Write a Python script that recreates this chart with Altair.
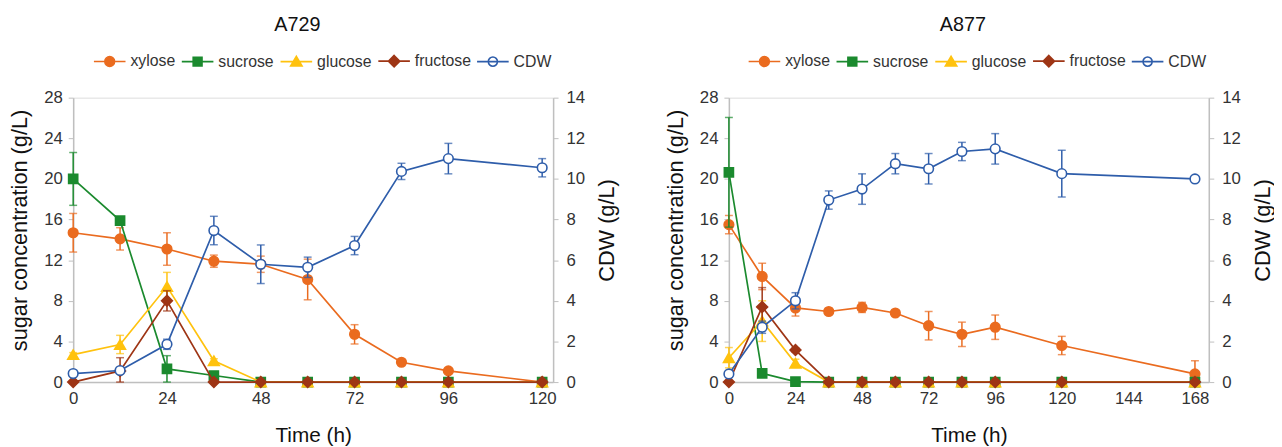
import altair as alt
import pandas as pd

SERIES = ["xylose", "sucrose", "glucose", "fructose", "CDW"]
COLORS = ["#EA6B1F", "#1B8A2E", "#FFC20E", "#9E3515", "#2E5DAA"]
FILLS = ["#EA6B1F", "#1B8A2E", "#FFC20E", "#9E3515", "#FFFFFF"]
MARKERS = ["circle", "square", "triangle-up", "diamond", "circle"]
MARKER_SIZES = [95, 85, 120, 120, 95]
LEGEND_PATHS = [
    "M-1,0H1M-0.31,0A0.31,0.31 0 1,0 0.31,0A0.31,0.31 0 1,0 -0.31,0Z",
    "M-1,0H1M-0.28,-0.28H0.28V0.28H-0.28Z",
    "M-1,0H1M0,-0.33L0.36,0.27H-0.36Z",
    "M-1,0H1M0,-0.36L0.36,0L0,0.36L-0.36,0Z",
    "M-1,0H1M-0.29,0A0.29,0.29 0 1,0 0.29,0A0.29,0.29 0 1,0 -0.29,0Z",
]

# ---------------- A729 ----------------
time_a = [0, 12, 24, 36, 48, 60, 72, 84, 96, 120]
xylose_a = [14.7, 14.1, 13.1, 11.9, 11.6, 10.1, 4.7, 1.95, 1.1, 0.0]
xylose_a_err = [1.9, 1.1, 1.6, 0.6, 0.8, 2.0, 0.95, 0.2, 0.1, 0.0]
sucrose_a = [20.0, 15.9, 1.3, 0.65, 0, 0, 0, 0, 0, 0]
sucrose_a_err = [2.6, 0.3, 1.3, 0.1, 0, 0, 0, 0, 0, 0]
glucose_a = [2.7, 3.7, 9.4, 2.1, 0, 0, 0, 0, 0, 0]
glucose_a_err = [0.2, 0.9, 1.4, 0.2, 0, 0, 0, 0, 0, 0]
fructose_a = [0, 1.1, 8.0, 0, 0, 0, 0, 0, 0, 0]
fructose_a_err = [0, 1.3, 1.0, 0, 0, 0, 0, 0, 0, 0]
cdw_a = [0.42, 0.57, 1.86, 7.46, 5.8, 5.65, 6.72, 10.37, 11.0, 10.55]
cdw_a_err = [0.05, 0.1, 0.25, 0.7, 0.95, 0.5, 0.45, 0.4, 0.75, 0.45]

# ---------------- A877 ----------------
time_b = [0, 12, 24, 36, 48, 60, 72, 84, 96, 120, 168]
xylose_b = [15.5, 10.4, 7.3, 6.95, 7.35, 6.8, 5.55, 4.7, 5.4, 3.6, 0.8]
xylose_b_err = [0.9, 1.3, 0.8, 0.3, 0.5, 0.2, 1.4, 1.2, 1.2, 0.9, 1.3]
sucrose_b = [20.65, 0.85, 0.05, 0, 0, 0, 0, 0, 0, 0, 0]
sucrose_b_err = [5.4, 0.1, 0, 0, 0, 0, 0, 0, 0, 0, 0]
glucose_b = [2.4, 6.0, 1.85, 0, 0, 0, 0, 0, 0, 0, 0]
glucose_b_err = [1.0, 2.0, 0.4, 0, 0, 0, 0, 0, 0, 0, 0]
fructose_b = [0, 7.4, 3.15, 0, 0, 0, 0, 0, 0, 0, 0]
fructose_b_err = [0, 1.9, 0.2, 0, 0, 0, 0, 0, 0, 0, 0]
cdw_b = [0.4, 2.7, 4.0, 8.96, 9.5, 10.75, 10.5, 11.35, 11.48, 10.26, 10.0]
cdw_b_err = [0.05, 0.3, 0.4, 0.45, 0.75, 0.5, 0.75, 0.45, 0.75, 1.15, 0.05]

x_ticks_a = [0, 24, 48, 72, 96, 120]
x_ticks_b = [0, 24, 48, 72, 96, 120, 144, 168]
sugar_ticks = [0, 4, 8, 12, 16, 20, 24, 28]
cdw_ticks = [0, 2, 4, 6, 8, 10, 12, 14]

FONT = "Liberation Sans"
AXIS_GRAY = "#BFBFBF"
LABEL_COLOR = "#333333"
TITLE_COLOR = "#111111"


def make_df(times, values, errs, series):
    df = pd.DataFrame({"time": times, "value": values, "err": errs})
    df["series"] = series
    df["lo"] = (df["value"] - df["err"]).clip(lower=0)
    df["hi"] = df["value"] + df["err"]
    return df


def series_layers(df, idx, x_axis, y_axis, x_domain, y_domain):
    color = COLORS[idx]
    base = alt.Chart(df)
    xs = alt.Scale(domain=x_domain, nice=False, zero=False)
    ys = alt.Scale(domain=y_domain, nice=False, zero=False)
    x_enc = alt.X("time:Q", scale=xs, axis=x_axis)
    line = base.mark_line(color=color, strokeWidth=1.7).encode(
        x=x_enc, y=alt.Y("value:Q", scale=ys, axis=y_axis))
    ebase = base.transform_filter(alt.datum.err > 0)
    rule = ebase.mark_rule(color=color, strokeWidth=1.5).encode(
        x=x_enc, y=alt.Y("lo:Q", scale=ys, axis=y_axis), y2="hi:Q")
    cap_hi = ebase.mark_tick(color=color, orient="horizontal", size=8, thickness=1.5).encode(
        x=x_enc, y=alt.Y("hi:Q", scale=ys, axis=y_axis))
    cap_lo = ebase.mark_tick(color=color, orient="horizontal", size=8, thickness=1.5).encode(
        x=x_enc, y=alt.Y("lo:Q", scale=ys, axis=y_axis))
    pts = base.mark_point(shape=MARKERS[idx], size=MARKER_SIZES[idx], filled=False,
                          fill=FILLS[idx], stroke=color, strokeWidth=1.6,
                          opacity=1, fillOpacity=1).encode(
        x=x_enc, y=alt.Y("value:Q", scale=ys, axis=y_axis))
    return [line, rule, cap_hi, cap_lo, pts]


def panel(title, title_dx, times, sugars, sugar_errs, cdw, cdw_err, xmax, xticks, legend_x):
    x_dom = [0, xmax]
    x_axis = alt.Axis(values=xticks, title="Time (h)", grid=False, ticks=False, labelFlush=False,
                      domainColor=AXIS_GRAY, domainWidth=1.5, labelFont=FONT, labelFontSize=17,
                      labelColor=LABEL_COLOR, labelPadding=9, titleFont=FONT, titleFontSize=21,
                      titleFontWeight="normal", titleColor=TITLE_COLOR, titlePadding=18)
    y_axis = alt.Axis(values=sugar_ticks, title="sugar concentration (g/L)", grid=False,
                      domainColor=AXIS_GRAY, domainWidth=1.5, tickColor=AXIS_GRAY, tickSize=5,
                      labelFont=FONT, labelFontSize=17, labelColor=LABEL_COLOR, labelPadding=6,
                      titleFont=FONT, titleFontSize=22, titleFontWeight="normal",
                      titleColor=TITLE_COLOR, titleAngle=270, titleBaseline="middle",
                      titleAlign="center", titleX=-54, titleY=134)
    y2_axis = alt.Axis(values=cdw_ticks, title="CDW (g/L)", orient="right", grid=False,
                       domainColor=AXIS_GRAY, domainWidth=1.5, tickColor=AXIS_GRAY, tickSize=5,
                       labelFont=FONT, labelFontSize=17, labelColor=LABEL_COLOR, labelPadding=8,
                       titleFont=FONT, titleFontSize=22, titleFontWeight="normal",
                       titleColor=TITLE_COLOR, titleAngle=270, titleBaseline="middle",
                       titleAlign="center", titleX=54, titleY=134)
    sugar_layers = []
    for i in range(4):
        df = make_df(times, sugars[i], sugar_errs[i], SERIES[i])
        sugar_layers += series_layers(df, i, x_axis, y_axis, x_dom, [0, 28])
    sugar = alt.layer(*sugar_layers)
    cdf = make_df(times, cdw, cdw_err, "CDW")
    cdw_group = alt.layer(*series_layers(cdf, 4, x_axis, y2_axis, x_dom, [0, 14]))

    legend_df = pd.DataFrame({"series": SERIES})
    leg = alt.Legend(orient="none", legendX=legend_x, legendY=-54, direction="horizontal",
                     columns=5, title=None, symbolSize=1024, symbolStrokeWidth=1.6,
                     labelFont=FONT, labelFontSize=16, labelColor=LABEL_COLOR,
                     labelOffset=4, columnPadding=2, symbolOpacity=1)
    legend_layer = alt.Chart(legend_df).transform_filter("false").mark_point(opacity=1).encode(
        shape=alt.Shape("series:N", scale=alt.Scale(domain=SERIES, range=LEGEND_PATHS), legend=leg),
        stroke=alt.Stroke("series:N", scale=alt.Scale(domain=SERIES, range=COLORS), legend=leg),
        fill=alt.Fill("series:N", scale=alt.Scale(domain=SERIES, range=FILLS), legend=leg),
    )
    return alt.layer(sugar, cdw_group, legend_layer).resolve_scale(y="independent").properties(
        width=486, height=288,
        title=alt.Title(title, font=FONT, fontSize=20, fontWeight="normal", color=TITLE_COLOR,
                        anchor="middle", dx=title_dx, offset=10),
    )


left = panel("A729", -16,
             time_a, [xylose_a, sucrose_a, glucose_a, fructose_a],
             [xylose_a_err, sucrose_a_err, glucose_a_err, fructose_a_err],
             cdw_a, cdw_a_err, 122.8, x_ticks_a, 20)
right = panel("A877", -6,
              time_b, [xylose_b, sucrose_b, glucose_b, fructose_b],
              [xylose_b_err, sucrose_b_err, glucose_b_err, fructose_b_err],
              cdw_b, cdw_b_err, 173, x_ticks_b, 19)

chart = (
    alt.hconcat(left, right, spacing=46)
    .resolve_scale(shape="independent", stroke="independent", fill="independent",
                   x="independent", y="independent")
    .resolve_legend(shape="independent", stroke="independent", fill="independent")
    .properties(padding={"left": 0, "top": 3, "right": 0, "bottom": 2})
    .configure_view(strokeWidth=0)
    .configure(font=FONT)
)
chart.save("out.html", embed_options={"renderer": "svg", "actions": False})
